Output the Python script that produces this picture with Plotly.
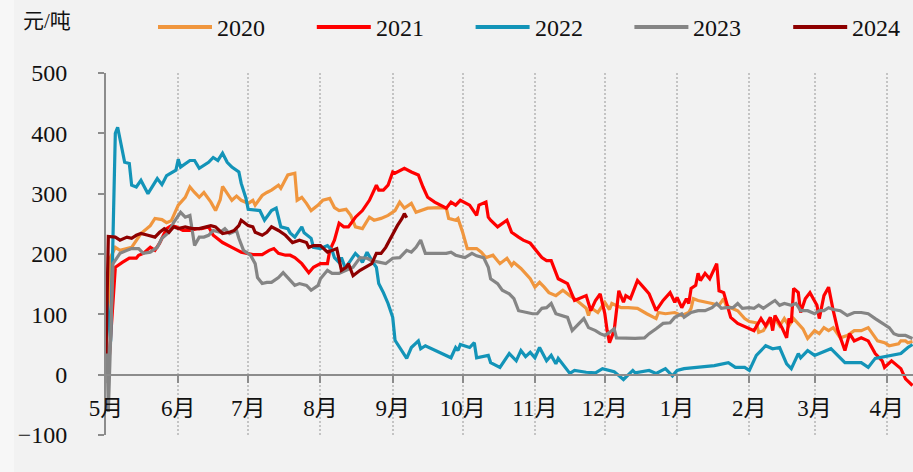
import datetime as dt
import plotly.graph_objects as go

# Season runs May -> April; each point is (month-day, value in 元/吨)
years = ["2020", "2021", "2022", "2023", "2024"]
colors = ["#F0963E", "#FF0000", "#1394B8", "#858585", "#8E0000"]

s2020 = [("05-01", 40), ("05-03", 195), ("05-05", 211), ("05-07", 206), ("05-12", 211), ("05-16", 234),
         ("05-20", 247), ("05-22", 259), ("05-25", 257), ("05-27", 252), ("05-29", 255), ("06-01", 281),
         ("06-04", 294), ("06-06", 311), ("06-08", 302), ("06-10", 294), ("06-12", 302), ("06-15", 286),
         ("06-17", 272), ("06-19", 290), ("06-20", 312), ("06-22", 300), ("06-24", 289), ("06-26", 296),
         ("06-28", 289), ("07-01", 284), ("07-03", 289), ("07-04", 281), ("07-07", 297), ("07-09", 302),
         ("07-11", 306), ("07-14", 314), ("07-15", 309), ("07-18", 331), ("07-21", 334), ("07-22", 289),
         ("07-24", 294), ("07-26", 284), ("07-28", 272), ("07-31", 281), ("08-02", 289), ("08-05", 292),
         ("08-07", 277), ("08-09", 272), ("08-12", 274), ("08-14", 264), ("08-16", 245), ("08-19", 242),
         ("08-22", 261), ("08-24", 256), ("08-27", 259), ("08-30", 264), ("09-02", 272), ("09-04", 286),
         ("09-06", 276), ("09-09", 284), ("09-11", 269), ("09-16", 276), ("09-21", 277), ("09-24", 276),
         ("09-25", 259), ("09-28", 256), ("09-29", 259), ("10-01", 236), ("10-03", 209), ("10-07", 209),
         ("10-09", 203), ("10-11", 194), ("10-14", 198), ("10-17", 184), ("10-20", 193), ("10-22", 181),
         ("10-23", 186), ("10-26", 176), ("10-30", 159), ("11-01", 145), ("11-03", 153), ("11-05", 145),
         ("11-07", 136), ("11-10", 131), ("11-13", 140), ("11-16", 131), ("11-19", 123), ("11-23", 110),
         ("11-24", 98), ("11-25", 111), ("11-28", 103), ("12-01", 120), ("12-03", 108), ("12-04", 118),
         ("12-08", 111), ("12-11", 111), ("12-15", 110), ("12-19", 101), ("12-23", 93), ("12-24", 103),
         ("12-27", 101), ("12-31", 103), ("01-03", 98), ("01-06", 103), ("01-07", 110), ("01-08", 126),
         ("01-10", 123), ("01-16", 118), ("01-19", 115), ("01-21", 126), ("01-22", 115), ("01-24", 111),
         ("01-27", 106), ("01-30", 93), ("02-01", 88), ("02-04", 86), ("02-05", 70), ("02-07", 73),
         ("02-09", 85), ("02-12", 93), ("02-14", 81), ("02-16", 93), ("02-18", 81), ("02-20", 93),
         ("02-22", 85), ("02-24", 76), ("02-26", 60), ("03-01", 73), ("03-03", 68), ("03-05", 78),
         ("03-07", 73), ("03-09", 78), ("03-12", 61), ("03-15", 65), ("03-18", 73), ("03-21", 73),
         ("03-24", 78), ("03-26", 68), ("03-28", 56), ("03-31", 53), ("04-02", 48), ("04-06", 51),
         ("04-07", 56), ("04-09", 56), ("04-10", 53), ("04-12", 55)]

s2021 = [("05-02", 5), ("05-05", 178), ("05-08", 186), ("05-11", 193), ("05-14", 193), ("05-15", 198),
         ("05-17", 201), ("05-20", 211), ("05-22", 206), ("05-24", 218), ("05-27", 242), ("05-29", 247),
         ("05-31", 245), ("06-03", 239), ("06-06", 239), ("06-09", 242), ("06-11", 242), ("06-14", 245),
         ("06-16", 231), ("06-20", 219), ("06-24", 211), ("06-28", 203), ("07-03", 199), ("07-07", 199),
         ("07-10", 206), ("07-12", 209), ("07-14", 201), ("07-17", 198), ("07-19", 198), ("07-21", 194),
         ("07-24", 184), ("07-27", 169), ("07-29", 178), ("08-01", 184), ("08-04", 184), ("08-05", 206),
         ("08-07", 223), ("08-09", 251), ("08-11", 245), ("08-13", 245), ("08-16", 261), ("08-19", 272),
         ("08-22", 289), ("08-25", 314), ("08-26", 306), ("08-28", 306), ("08-30", 314), ("09-01", 336),
         ("09-02", 334), ("09-06", 342), ("09-09", 336), ("09-12", 331), ("09-14", 311), ("09-16", 294),
         ("09-19", 286), ("09-24", 276), ("09-26", 286), ("09-28", 281), ("09-30", 289), ("10-04", 281),
         ("10-07", 264), ("10-08", 281), ("10-11", 286), ("10-12", 261), ("10-13", 256), ("10-16", 245),
         ("10-20", 256), ("10-22", 236), ("10-25", 228), ("10-27", 223), ("10-30", 218), ("11-01", 209),
         ("11-04", 194), ("11-06", 189), ("11-08", 189), ("11-11", 159), ("11-15", 151), ("11-18", 123),
         ("11-21", 128), ("11-23", 131), ("11-25", 106), ("11-27", 123), ("11-29", 134), ("12-01", 101),
         ("12-02", 73), ("12-03", 53), ("12-05", 73), ("12-07", 139), ("12-09", 120), ("12-10", 131),
         ("12-12", 126), ("12-15", 156), ("12-18", 143), ("12-20", 134), ("12-23", 106), ("12-26", 123),
         ("12-29", 136), ("12-31", 120), ("01-01", 128), ("01-03", 111), ("01-05", 126), ("01-06", 118),
         ("01-07", 143), ("01-09", 148), ("01-10", 168), ("01-11", 156), ("01-13", 168), ("01-15", 159),
         ("01-18", 184), ("01-19", 139), ("01-21", 136), ("01-24", 95), ("01-27", 85), ("02-01", 76),
         ("02-03", 73), ("02-06", 93), ("02-08", 81), ("02-10", 95), ("02-11", 73), ("02-12", 98),
         ("02-15", 78), ("02-17", 61), ("02-18", 93), ("02-19", 86), ("02-20", 143), ("02-22", 136),
         ("02-23", 103), ("02-25", 126), ("02-27", 136), ("03-02", 115), ("03-03", 93), ("03-05", 131),
         ("03-07", 145), ("03-09", 106), ("03-11", 73), ("03-14", 40), ("03-16", 68), ("03-18", 56),
         ("03-21", 61), ("03-24", 56), ("03-27", 35), ("03-30", 23), ("03-31", 12), ("04-03", 23),
         ("04-04", 20), ("04-07", 10), ("04-09", -7), ("04-11", -15), ("04-12", -18)]

s2022 = [("05-01", 145), ("05-03", 55), ("05-05", 400), ("05-06", 410), ("05-09", 352), ("05-11", 350),
         ("05-12", 314), ("05-14", 311), ("05-16", 322), ("05-19", 300), ("05-23", 325), ("05-25", 315),
         ("05-27", 330), ("05-31", 339), ("06-01", 357), ("06-02", 344), ("06-06", 355), ("06-08", 355),
         ("06-10", 342), ("06-14", 352), ("06-16", 360), ("06-18", 355), ("06-20", 367), ("06-22", 352),
         ("06-24", 344), ("06-27", 336), ("06-28", 317), ("06-30", 293), ("07-01", 274), ("07-06", 272),
         ("07-08", 256), ("07-10", 267), ("07-11", 272), ("07-13", 276), ("07-15", 245), ("07-18", 242),
         ("07-19", 235), ("07-21", 228), ("07-24", 245), ("07-25", 235), ("07-28", 226), ("07-29", 211),
         ("08-01", 209), ("08-04", 214), ("08-06", 206), ("08-07", 194), ("08-09", 186), ("08-10", 194),
         ("08-12", 173), ("08-13", 184), ("08-16", 201), ("08-18", 193), ("08-19", 186), ("08-21", 203),
         ("08-23", 189), ("08-25", 178), ("08-26", 151), ("08-28", 136), ("08-30", 118), ("09-01", 95),
         ("09-02", 57), ("09-07", 27), ("09-09", 45), ("09-12", 56), ("09-13", 43), ("09-15", 48),
         ("09-26", 28), ("09-28", 45), ("09-29", 40), ("09-30", 50), ("10-04", 45), ("10-06", 53),
         ("10-07", 28), ("10-12", 32), ("10-13", 20), ("10-17", 12), ("10-21", 35), ("10-24", 23),
         ("10-26", 40), ("10-28", 30), ("10-30", 37), ("11-01", 28), ("11-03", 45), ("11-06", 23),
         ("11-08", 32), ("11-10", 18), ("11-11", 27), ("11-16", 2), ("11-18", 7), ("11-23", 4),
         ("11-27", 3), ("11-30", 10), ("12-05", 5), ("12-09", -8), ("12-13", 7), ("12-14", 3),
         ("12-20", 7), ("12-23", 2), ("12-27", 10), ("12-30", -2), ("01-01", 7), ("01-04", 10),
         ("01-11", 12), ("01-17", 15), ("01-23", 20), ("01-26", 12), ("01-30", 12), ("02-01", 7),
         ("02-04", 32), ("02-08", 48), ("02-11", 43), ("02-14", 45), ("02-17", 18), ("02-19", 10),
         ("02-22", 35), ("02-23", 28), ("02-26", 40), ("03-01", 32), ("03-08", 43), ("03-10", 35),
         ("03-14", 20), ("03-21", 20), ("03-24", 12), ("03-27", 27), ("04-03", 32), ("04-07", 35),
         ("04-10", 45), ("04-12", 50)]

s2023 = [("05-01", 140), ("05-02", -62), ("05-04", 184), ("05-07", 201), ("05-10", 206), ("05-12", 209),
         ("05-15", 209), ("05-17", 201), ("05-20", 203), ("05-23", 211), ("05-25", 226), ("05-28", 236),
         ("05-30", 252), ("06-02", 269), ("06-04", 261), ("06-06", 264), ("06-08", 214), ("06-10", 228),
         ("06-12", 228), ("06-14", 231), ("06-16", 239), ("06-19", 236), ("06-21", 242), ("06-23", 234),
         ("06-26", 239), ("06-27", 226), ("06-29", 206), ("07-02", 198), ("07-04", 184), ("07-05", 161),
         ("07-07", 151), ("07-09", 153), ("07-11", 153), ("07-14", 161), ("07-16", 169), ("07-18", 161),
         ("07-21", 148), ("07-23", 151), ("07-26", 148), ("07-28", 140), ("07-31", 148), ("08-01", 159),
         ("08-04", 173), ("08-06", 168), ("08-09", 168), ("08-12", 173), ("08-15", 178), ("08-18", 194),
         ("08-21", 193), ("08-23", 189), ("08-26", 186), ("08-29", 184), ("09-01", 193), ("09-04", 194),
         ("09-07", 206), ("09-09", 203), ("09-11", 211), ("09-13", 223), ("09-15", 201), ("09-19", 201),
         ("09-24", 201), ("09-26", 203), ("09-28", 198), ("10-02", 194), ("10-05", 201), ("10-07", 197),
         ("10-10", 194), ("10-12", 178), ("10-13", 159), ("10-16", 151), ("10-18", 140), ("10-21", 134),
         ("10-23", 126), ("10-25", 106), ("10-28", 103), ("10-31", 101), ("11-02", 101), ("11-04", 110),
         ("11-06", 111), ("11-08", 118), ("11-10", 101), ("11-13", 98), ("11-15", 95), ("11-17", 73),
         ("11-19", 81), ("11-22", 93), ("11-24", 78), ("11-27", 73), ("11-29", 68), ("12-01", 65),
         ("12-03", 70), ("12-05", 76), ("12-06", 61), ("12-10", 60), ("12-14", 60), ("12-18", 61),
         ("12-20", 68), ("12-23", 76), ("12-26", 85), ("12-29", 86), ("12-31", 95), ("01-03", 101),
         ("01-04", 95), ("01-07", 103), ("01-10", 106), ("01-13", 106), ("01-16", 111), ("01-18", 118),
         ("01-20", 110), ("01-22", 111), ("01-25", 111), ("01-27", 118), ("01-29", 110), ("02-01", 111),
         ("02-03", 110), ("02-05", 115), ("02-07", 110), ("02-10", 118), ("02-12", 123), ("02-14", 115),
         ("02-16", 118), ("02-19", 115), ("02-21", 118), ("02-23", 106), ("02-26", 106), ("03-01", 101),
         ("03-03", 106), ("03-05", 106), ("03-07", 111), ("03-09", 108), ("03-12", 106), ("03-15", 98),
         ("03-18", 103), ("03-21", 103), ("03-24", 101), ("03-27", 93), ("03-30", 86), ("04-02", 78),
         ("04-04", 68), ("04-06", 65), ("04-09", 65), ("04-11", 61), ("04-12", 60)]

s2024 = [("05-01", 35), ("05-02", 229), ("05-05", 228), ("05-07", 223), ("05-10", 228), ("05-12", 226),
         ("05-14", 231), ("05-16", 234), ("05-19", 231), ("05-22", 228), ("05-24", 236), ("05-26", 242),
         ("05-28", 236), ("05-30", 245), ("06-01", 242), ("06-04", 245), ("06-07", 242), ("06-10", 242),
         ("06-13", 245), ("06-15", 247), ("06-17", 245), ("06-20", 234), ("06-23", 236), ("06-25", 239),
         ("06-27", 247), ("06-28", 256), ("07-01", 247), ("07-03", 245), ("07-04", 236), ("07-07", 231),
         ("07-09", 236), ("07-11", 245), ("07-14", 239), ("07-17", 231), ("07-20", 219), ("07-23", 223),
         ("07-26", 219), ("07-27", 211), ("07-29", 214), ("08-01", 214), ("08-04", 203), ("08-06", 206),
         ("08-08", 209), ("08-10", 173), ("08-12", 178), ("08-13", 184), ("08-15", 164), ("08-18", 173),
         ("08-20", 178), ("08-23", 184), ("08-25", 201), ("08-27", 201), ("08-29", 211), ("08-31", 226),
         ("09-01", 231), ("09-03", 247), ("09-05", 259), ("09-06", 267), ("09-07", 260)]

series = [s2020, s2021, s2022, s2023, s2024]

month_ticks = ["2021-05-01", "2021-06-01", "2021-07-01", "2021-08-01", "2021-09-01", "2021-10-01",
               "2021-11-01", "2021-12-01", "2022-01-01", "2022-02-01", "2022-03-01", "2022-04-01"]
month_labels = ["5月", "6月", "7月", "8月", "9月", "10月", "11月", "12月", "1月", "2月", "3月", "4月"]
y_ticks = [-100, 0, 100, 200, 300, 400, 500]


def season_date(md):
    """Map a month-day onto a common May-April season axis."""
    m, d = (int(p) for p in md.split("-"))
    return dt.date(2021 if m >= 5 else 2022, m, d)


W, H = 913, 472
L, R, T, B = 106, 0, 73, 37
PW, PH = W - L - R, H - T - B
FONT = "Liberation Serif, Noto Sans CJK SC, serif"


def fx(px):
    return (px - L) / PW


def fy(py):
    return (H - B - py) / PH


fig = go.Figure()
for name, color, pts in zip(years, colors, series):
    fig.add_trace(go.Scatter(
        x=[season_date(d) for d, _ in pts],
        y=[v for _, v in pts],
        mode="lines", name=name,
        line=dict(color=color, width=3.2),
        showlegend=False,
    ))

# hand-drawn legend row across the top
shapes = [dict(type="rect", xref="paper", yref="paper", x0=fx(0), x1=fx(14), y0=fy(H), y1=fy(0),
               fillcolor="#f7f7f7", line=dict(width=0), layer="below")]
annotations = []
for i, (name, color) in enumerate(zip(years, colors)):
    x0 = 158 + i * 158.8
    shapes.append(dict(type="line", xref="paper", yref="paper", x0=fx(x0), x1=fx(x0 + 54),
                       y0=fy(27), y1=fy(27), line=dict(color=color, width=4)))
    annotations.append(dict(text=name, xref="paper", yref="paper", x=fx(x0 + 57), y=fy(28),
                            xanchor="left", yanchor="middle", showarrow=False,
                            font=dict(family=FONT, size=24, color="#111")))
annotations.append(dict(text="元/吨", xref="paper", yref="paper", x=fx(21), y=fy(21),
                        xanchor="left", yanchor="middle", showarrow=False,
                        font=dict(family=FONT, size=21, color="#111")))

fig.update_layout(
    width=W, height=H,
    margin=dict(l=L, r=R, t=T, b=B, autoexpand=False),
    paper_bgcolor="#f2f2f2", plot_bgcolor="#f2f2f2",
    font=dict(family=FONT, size=24, color="#111"),
    shapes=shapes, annotations=annotations,
    xaxis=dict(
        type="date",
        range=["2021-05-01", "2022-04-12 05:00"],
        tickvals=month_ticks, ticktext=month_labels,
        anchor="free", position=1 / 6,
        showline=True, linecolor="#8c8c8c", linewidth=2,
        ticks="outside", ticklen=7, tickwidth=2, tickcolor="#8c8c8c",
        showgrid=True, gridcolor="#c4c4c4", griddash="2px,2px", gridwidth=1.5,
        zeroline=False, ticklabelstandoff=6,
        tickfont=dict(family=FONT, size=23, color="#111"),
    ),
    yaxis=dict(
        range=[-100, 500], tickvals=y_ticks,
        showline=True, linecolor="#8c8c8c", linewidth=2,
        ticks="outside", ticklen=6, tickwidth=2, tickcolor="#8c8c8c",
        showgrid=False, zeroline=False, ticklabelstandoff=26,
        tickfont=dict(family=FONT, size=24, color="#111"),
    ),
)

fig.write_html("out.html")
